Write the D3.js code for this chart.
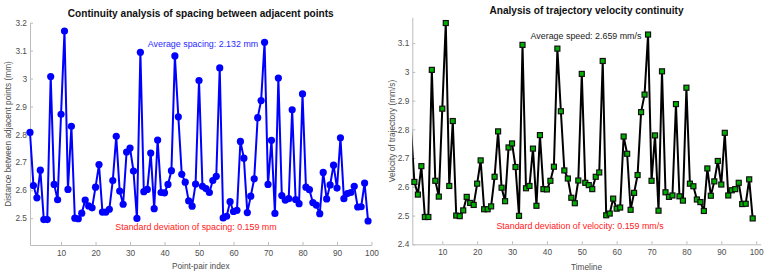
<!DOCTYPE html>
<html lang="en">
<head>
<meta charset="utf-8">
<title>Continuity analysis</title>
<style>
  body { margin: 0; background: #fff; }
  svg { font-family: "Liberation Sans", Arial, sans-serif; }
  .axis path, .axis line { stroke: #bcbcbc; }
  .axis text { fill: #4d4d4d; font-size: 8.3px; }
  .title { font-weight: bold; font-size: 10.1px; fill: #111; text-anchor: middle; }
  .lab { font-size: 8.3px; fill: #4d4d4d; text-anchor: middle; }
  .note { font-size: 8.9px; text-anchor: middle; }
</style>
</head>
<body>
<svg width="771" height="275"></svg>
<script src="https://d3js.org/d3.v7.min.js"></script>
<script>
// same 99 values are shown in both panels
var idx = d3.range(1, 100);
var values = [
  2.807, 2.617, 2.573, 2.672, 2.495, 2.495, 3.007, 2.621, 2.566, 2.872,
  3.170, 2.603, 2.829, 2.500, 2.498, 2.518, 2.565, 2.544, 2.537, 2.611,
  2.692, 2.522, 2.522, 2.532, 2.635, 2.793, 2.597, 2.550, 2.737, 2.751,
  2.669, 2.499, 3.094, 2.595, 2.603, 2.733, 2.534, 2.780, 2.592, 2.591,
  2.621, 2.670, 3.081, 2.863, 2.657, 2.629, 2.562, 2.543, 2.622, 2.993,
  2.614, 2.606, 2.592, 2.635, 2.650, 3.038, 2.501, 2.507, 2.559, 2.524,
  2.528, 2.775, 2.715, 2.520, 2.579, 2.641, 2.860, 2.921, 3.130, 2.621,
  2.779, 2.517, 3.002, 2.581, 2.565, 2.570, 2.888, 2.567, 2.552, 2.945,
  2.611, 2.602, 2.556, 2.547, 2.516, 2.664, 2.569, 2.619, 2.690, 2.608,
  2.788, 2.570, 2.588, 2.592, 2.614, 2.540, 2.541, 2.626, 2.490
];
var data = idx.map(function(d, i) { return [d, values[i]]; });

var xTicks = [10, 20, 30, 40, 50, 60, 70, 80, 90, 100];
var yTicksLeft = [2.5, 2.6, 2.7, 2.8, 2.9, 3.0, 3.1, 3.2];
var yTicksRight = [2.4, 2.5, 2.6, 2.7, 2.8, 2.9, 3.0, 3.1];

var svg = d3.select("svg");

function panel(opt) {
  var x = d3.scaleLinear().domain(opt.xdom).range(opt.xr);
  var y = d3.scaleLinear().domain(opt.ydom).range(opt.yr);
  var g = svg.append("g");

  g.append("clipPath").attr("id", opt.id)
   .append("rect")
   .attr("x", opt.xr[0]).attr("y", opt.yr[1] - 10)
   .attr("width", opt.xr[1] - opt.xr[0]).attr("height", opt.yr[0] - opt.yr[1] + 20);

  // ticks point inward like matlab
  g.append("g").attr("class", "axis")
   .attr("transform", "translate(0," + opt.yr[0] + ")")
   .call(d3.axisBottom(x).tickValues(xTicks).tickSizeInner(-3).tickSizeOuter(0).tickPadding(5).tickFormat(d3.format("d")));
  g.append("g").attr("class", "axis")
   .attr("transform", "translate(" + opt.xr[0] + ",0)")
   .call(d3.axisLeft(y).tickValues(opt.yticks).tickSizeInner(-3).tickSizeOuter(0).tickPadding(3).tickFormat(d3.format("~g")));

  var line = d3.line().x(function(d) { return x(d[0]); }).y(function(d) { return y(d[1]); });
  g.append("path")
   .attr("d", line(data))
   .attr("clip-path", opt.clip ? "url(#" + opt.id + ")" : null)
   .attr("fill", "none").attr("stroke", opt.color).attr("stroke-width", 2)
   .attr("stroke-linejoin", "round");

  var pts = data.filter(function(d) { return d[0] >= opt.xdom[0]; });
  if (opt.square) {
    g.selectAll("rect.pt").data(pts).enter().append("rect")
     .attr("class", "pt")
     .attr("x", function(d) { return x(d[0]) - 2.5; })
     .attr("y", function(d) { return y(d[1]) - 2.5; })
     .attr("width", 5).attr("height", 5)
     .attr("fill", "#00b000").attr("stroke", "#111").attr("stroke-width", 1.2);
  } else {
    g.selectAll("circle.pt").data(pts).enter().append("circle")
     .attr("class", "pt")
     .attr("cx", function(d) { return x(d[0]); })
     .attr("cy", function(d) { return y(d[1]); })
     .attr("r", 3.6).attr("fill", opt.color);
  }

  var cx = (opt.xr[0] + opt.xr[1]) / 2;
  g.append("text").attr("class", "title").attr("x", cx).attr("y", opt.titleY).text(opt.title);
  g.append("text").attr("class", "lab").attr("x", cx).attr("y", opt.xlabY).text(opt.xlabel);
  g.append("text").attr("class", "lab")
   .attr("transform", "translate(" + opt.ylabX + "," + opt.ylabY + ") rotate(-90)")
   .text(opt.ylabel);

  g.append("text").attr("class", "note").attr("x", opt.avgX).attr("y", opt.avgY)
   .attr("fill", opt.avgColor).text(opt.avg);
  g.append("text").attr("class", "note").attr("x", opt.stdX).attr("y", opt.stdY)
   .attr("fill", "#ff2020").text(opt.std);
}

panel({
  id: "c1", xdom: [1, 100], xr: [30, 371.5], ydom: [2.404, 3.2], yr: [245, 22.7],
  yticks: yTicksLeft, color: "#0000ff", square: false, clip: false,
  title: "Continuity analysis of spacing between adjacent points", titleY: 16.5,
  xlabel: "Point-pair index", xlabY: 268.5,
  ylabel: "Distance between adjacent points (mm)", ylabX: 11, ylabY: 134,
  avg: "Average spacing: 2.132 mm", avgColor: "#2a2aff", avgX: 203, avgY: 46.5,
  std: "Standard deviation of spacing: 0.159 mm", stdX: 196, stdY: 230
});

panel({
  id: "c2", xdom: [1.4, 101.3], xr: [412.3, 760.7], ydom: [2.4, 3.19], yr: [244.3, 17.3],
  yticks: yTicksRight, color: "#000", square: true, clip: true,
  title: "Analysis of trajectory velocity continuity", titleY: 13.8,
  xlabel: "Timeline", xlabY: 269.5,
  ylabel: "Velocity of trajectory (mm/s)", ylabX: 394.5, ylabY: 131,
  avg: "Average speed: 2.659 mm/s", avgColor: "#222", avgX: 586, avgY: 39,
  std: "Standard deviation of velocity: 0.159 mm/s", stdX: 580, stdY: 229
});
</script>
</body>
</html>
